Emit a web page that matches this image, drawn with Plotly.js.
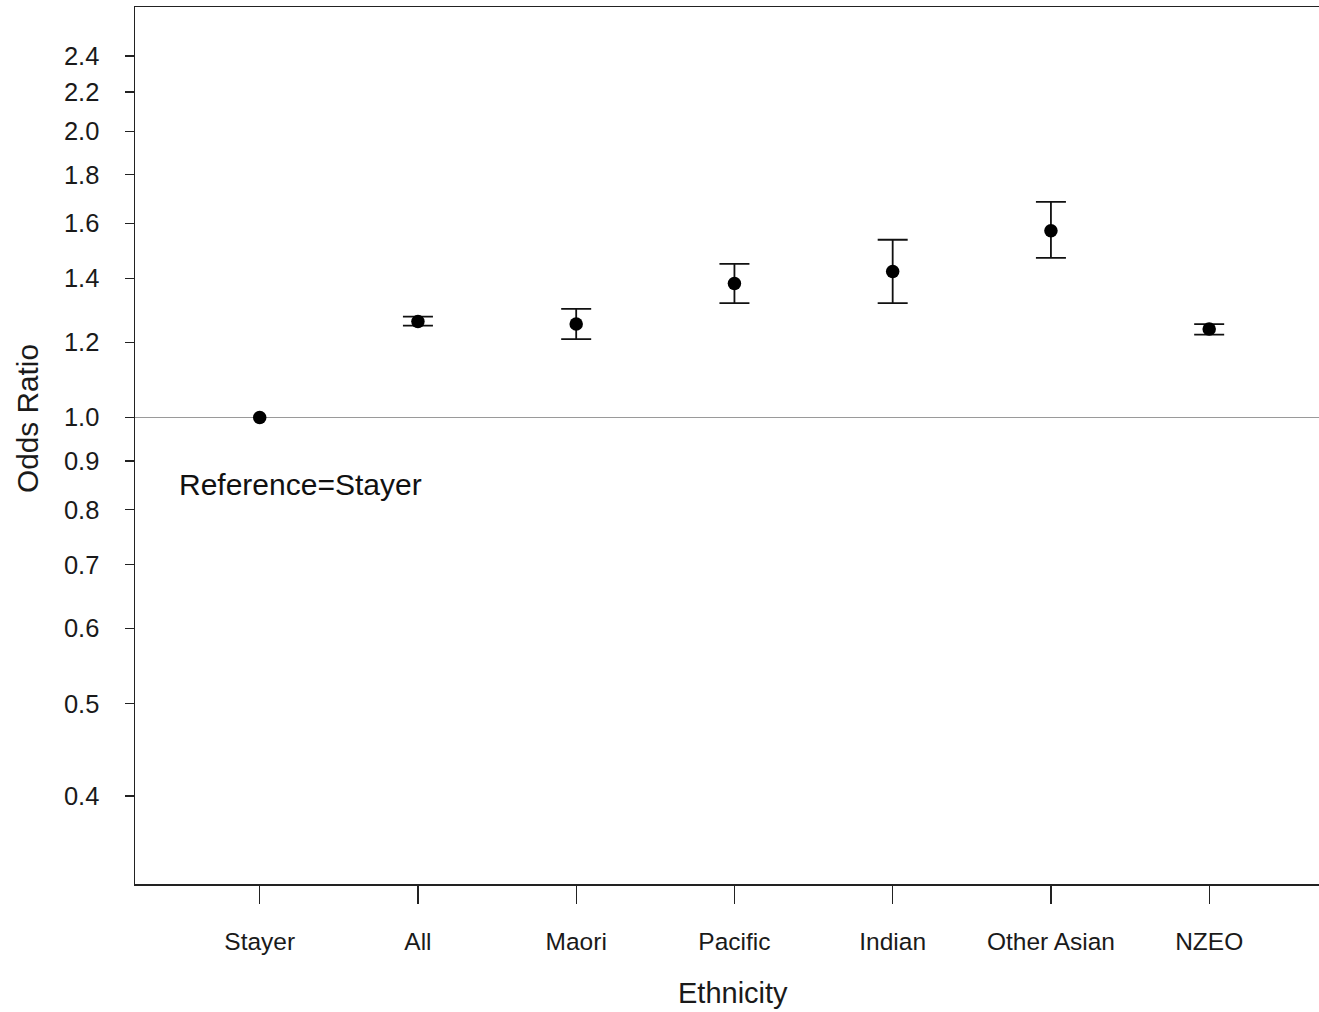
<!DOCTYPE html>
<html>
<head>
<meta charset="utf-8">
<script src="https://cdn.plot.ly/plotly-3.0.1.min.js"></script>
<style>html,body{margin:0;padding:0;background:#fff;}#chart{width:1319px;height:1012px;}</style>
</head>
<body>
<div id="chart"></div>
<script>
// Data
const categories = ["Stayer", "All", "Maori", "Pacific", "Indian", "Other Asian", "NZEO"];
const oddsRatio  = [1.000, 1.262, 1.254, 1.383, 1.424, 1.572, 1.239];
const upperCI    = [null, 1.277, 1.301, 1.451, 1.538, 1.686, 1.254];
const lowerCI    = [null, 1.249, 1.209, 1.319, 1.319, 1.472, 1.222];
const yTickVals  = [0.4, 0.5, 0.6, 0.7, 0.8, 0.9, 1.0, 1.2, 1.4, 1.6, 1.8, 2.0, 2.2, 2.4];
const yTickText  = ["0.4", "0.5", "0.6", "0.7", "0.8", "0.9", "1.0", "1.2", "1.4", "1.6", "1.8", "2.0", "2.2", "2.4"];
const referenceValue = 1.0;
const noteText = "Reference=Stayer";
const noteValue = 0.851;
const xTitle = "Ethnicity";
const yTitle = "Odds Ratio";

const xIdx = categories.map((c, i) => i);
const errPlus  = upperCI.map((u, i) => u === null ? NaN : u - oddsRatio[i]);
const errMinus = lowerCI.map((l, i) => l === null ? NaN : oddsRatio[i] - l);

const trace = {
  type: "scatter",
  mode: "markers",
  x: xIdx,
  y: oddsRatio,
  marker: {color: "#000", size: 13.5},
  error_y: {
    type: "data", symmetric: false,
    array: errPlus, arrayminus: errMinus,
    color: "#111", thickness: 1.8, width: 15
  },
  hoverinfo: "x+y",
  showlegend: false
};

const font = "Liberation Sans, Arial, sans-serif";
const layout = {
  width: 1319, height: 1012,
  margin: {l: 135, r: 0, t: 7, b: 128, pad: 0},
  paper_bgcolor: "#fff", plot_bgcolor: "#fff",
  font: {family: font, color: "#1a1a1a"},
  xaxis: {
    tickmode: "array", tickvals: xIdx, ticktext: categories,
    range: [-0.788, 6.694],
    showgrid: false, zeroline: false,
    showline: true, linecolor: "#222", linewidth: 1.5, mirror: true,
    ticks: "outside", ticklen: 18, tickwidth: 1.3, tickcolor: "#222",
    tickfont: {size: 24.5, family: font, color: "#1a1a1a"},
    ticklabelstandoff: 17,
    automargin: false
  },
  yaxis: {
    type: "log",
    range: [Math.log10(0.3232), Math.log10(2.702)],
    tickmode: "array", tickvals: yTickVals, ticktext: yTickText,
    showgrid: false, zeroline: false,
    showline: true, linecolor: "#222", linewidth: 1.5, mirror: false,
    ticks: "outside", ticklen: 9, tickwidth: 1.3, tickcolor: "#222",
    tickfont: {size: 25.5, family: font, color: "#1a1a1a"},
    ticklabelstandoff: 20,
    automargin: false
  },
  shapes: [{
    type: "line", xref: "paper", x0: 0, x1: 1, yref: "y", y0: referenceValue, y1: referenceValue,
    line: {color: "#9a9a9a", width: 1.2}, layer: "below"
  }],
  annotations: [
    {
      text: noteText, xref: "x", yref: "y", x: -0.525, y: Math.log10(noteValue),
      xanchor: "left", yanchor: "middle", showarrow: false,
      font: {size: 30, family: font, color: "#111"}
    },
    {
      text: xTitle, xref: "paper", yref: "paper", x: 0.5051, y: -0.124,
      xanchor: "center", yanchor: "middle", showarrow: false,
      font: {size: 29, family: font, color: "#1a1a1a"}
    },
    {
      text: yTitle, xref: "paper", yref: "paper", x: -0.0909, y: 0.5306,
      xanchor: "center", yanchor: "middle", textangle: -90, showarrow: false,
      font: {size: 29.8, family: font, color: "#1a1a1a"}
    }
  ]
};

Plotly.newPlot("chart", [trace], layout, {displayModeBar: false, staticPlot: true});
</script>
</body>
</html>
